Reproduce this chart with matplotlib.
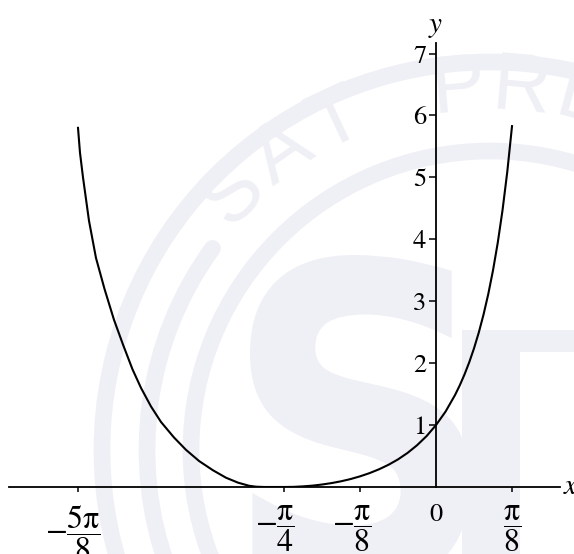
import numpy as np
import matplotlib
matplotlib.use("Agg")
import matplotlib.pyplot as plt
from matplotlib.patches import Circle, Arc, Rectangle, PathPatch
from matplotlib.textpath import TextPath
from matplotlib.font_manager import FontProperties
from matplotlib.transforms import ScaledTranslation, Affine2D

plt.rcParams["font.family"] = "STIXGeneral"
plt.rcParams["mathtext.fontset"] = "stix"

# right branch: x in multiples of pi/64, from -pi/4 up to pi/8
right_x64 = [-16, -15, -14, -13, -12, -11, -10, -9, -8, -7, -6, -5, -4,
             -3, -2, -1, 0, 1, 2, 2.5, 3, 3.5, 4, 4.5, 5, 5.5, 6, 6.5,
             7, 7.5, 8]
right_y = [0.000, 0.002, 0.010, 0.022, 0.040, 0.063, 0.092, 0.128, 0.172,
           0.224, 0.286, 0.359, 0.446, 0.550, 0.674, 0.821, 1.000, 1.217,
           1.485, 1.642, 1.818, 2.016, 2.240, 2.494, 2.784, 3.116, 3.500,
           3.947, 4.470, 5.090, 5.828]

# left branch: x in multiples of pi
left_x = [-0.6250, -0.6214, -0.6159, -0.6050, -0.5923, -0.5768, -0.5595,
          -0.5431, -0.5258, -0.5103, -0.4921, -0.4739, -0.4503, -0.4284,
          -0.4047, -0.3793, -0.3556, -0.3337, -0.3137, -0.3010, -0.2864]
left_y = [5.80, 5.40, 5.00, 4.30, 3.70, 3.20, 2.70, 2.30, 1.90, 1.60, 1.30,
          1.05, 0.80, 0.60, 0.42, 0.27, 0.15, 0.07, 0.02, 0.005, 0.00]

x_ticks = [-5 / 8, -1 / 4, -1 / 8, 0, 1 / 8]
x_labels = [r"$-\dfrac{5\mathrm{\pi}}{8}$", r"$-\dfrac{\mathrm{\pi}}{4}$",
            r"$-\dfrac{\mathrm{\pi}}{8}$", "0", r"$\dfrac{\mathrm{\pi}}{8}$"]
x_label_dx = [-5, -9, -8, 0, 0]   # pixel nudges for the tick labels
y_ticks = [1, 2, 3, 4, 5, 6, 7]

x = np.concatenate([np.array(left_x) * np.pi, np.array(right_x64) * np.pi / 64])
y = np.concatenate([left_y, right_y])

fig = plt.figure(figsize=(5.74, 5.54), dpi=100)

# faint logo in the background (pixel coordinates, y down)
wm = fig.add_axes([0, 0, 1, 1], zorder=0)
wm.set_xlim(0, 574)
wm.set_ylim(554, 0)
wm.axis("off")
wm_col = "#efeff6"
cx, cy = 490, 450
for r in (388, 299):
    wm.add_patch(Circle((cx, cy), r, fill=False, lw=12, color=wm_col))
wm.add_patch(Arc((cx, cy), 686, 686, theta1=160, theta2=216, lw=12,
                 color=wm_col, capstyle="round"))
for ch, ang in zip("SATPRE", [135, 125, 115, 95, 85, 75]):
    a = np.radians(ang)
    wm.text(cx + 362 * np.cos(a), cy - 362 * np.sin(a), ch, fontsize=58,
            family="Liberation Sans", color=wm_col, rotation=ang - 90,
            ha="center", va="center")
s_path = TextPath((0, 0), "S", size=1,
                  prop=FontProperties(family="DejaVu Sans", weight="bold"))
bb = s_path.get_extents()
s_tr = (Affine2D().translate(-bb.x0, -bb.y0)
        .scale(220 / bb.width, -330 / bb.height).translate(250, 585))
wm.add_patch(PathPatch(s_tr.transform_path(s_path), color=wm_col, lw=0))
wm.add_patch(Rectangle((462, 330), 58, 240, color=wm_col, lw=0))
wm.add_patch(Rectangle((462, 330), 120, 22, color=wm_col, lw=0))

ax = fig.add_axes([9 / 574, 67 / 554, 551 / 574, 444 / 554], zorder=1)
ax.patch.set_visible(False)

# left of -pi/4 the axis is drawn a little compressed
k = 0.9035
q = -np.pi / 4


def fwd(v):
    v = np.asarray(v, dtype=float)
    return np.where(v < q, q + (v - q) * k, v)


def inv(v):
    v = np.asarray(v, dtype=float)
    return np.where(v < q, q + (v - q) / k, v)


ax.set_xscale("function", functions=(fwd, inv))
ax.plot(x, y, color="black", lw=1.5, solid_joinstyle="round", zorder=3)

ax.set_xlim(-0.7506 * np.pi, 0.2039 * np.pi)
ax.set_ylim(0, 7.17)

for s in ("top", "right"):
    ax.spines[s].set_visible(False)
ax.spines["left"].set_position(("data", 0))
for s in ("left", "bottom"):
    ax.spines[s].set_linewidth(1.3)

ax.set_xticks(np.array(x_ticks) * np.pi)
ax.set_xticklabels(x_labels)
ax.set_yticks(y_ticks)
ax.set_yticklabels([str(t) for t in y_ticks])
ax.tick_params(axis="x", direction="out", length=3.6, width=1.1, pad=8,
               labelsize=23)
ax.tick_params(axis="y", direction="out", length=5, width=1.1, pad=2,
               labelsize=19)
ax.xaxis.get_major_ticks()[3].tick1line.set_visible(False)
ax.minorticks_off()

for lab, dx in zip(ax.get_xticklabels(), x_label_dx):
    if lab.get_text() == "0":
        lab.set_fontsize(19)
    lab.set_transform(lab.get_transform()
                      + ScaledTranslation(dx / 100, 0, fig.dpi_scale_trans))

ax.annotate("$x$", xy=(1, 0), xycoords=("axes fraction", "data"),
            xytext=(2, 0), textcoords="offset points", ha="left",
            va="center", fontsize=21)
ax.annotate("$y$", xy=(0, 1), xycoords=("data", "axes fraction"),
            xytext=(0, 2), textcoords="offset points", ha="center",
            va="bottom", fontsize=21)

fig.savefig("out.png", dpi=100)
